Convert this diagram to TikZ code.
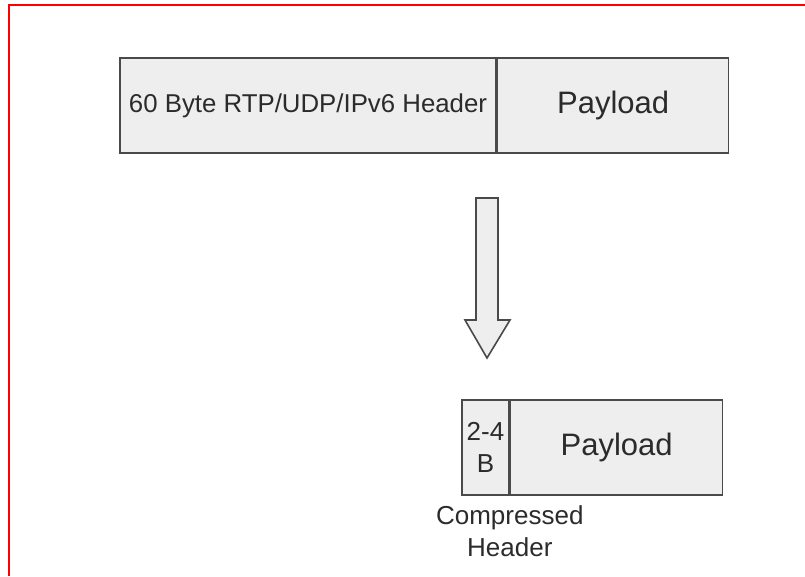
\documentclass[tikz,border=0pt]{standalone}
\usepackage{fontspec}
\setmainfont{Liberation Sans}
\usepackage{xcolor}
\usetikzlibrary{positioning}

\definecolor{boxfill}{HTML}{EEEEEE}
\definecolor{boxline}{HTML}{4A4A4A}
\definecolor{txt}{HTML}{2B2B2B}

\begin{document}
\begin{tikzpicture}[
    x=1pt, y=-1pt,
    field/.style={rectangle, draw=boxline, fill=boxfill, line width=1.6pt, minimum height=95pt, inner sep=0pt, align=center, text=txt},
    bigtext/.style={font=\fontsize{31}{36}\selectfont},
    hdrtext/.style={font=\fontsize{25.8}{30}\selectfont},
    smalltext/.style={font=\fontsize{26}{32}\selectfont}
]
\useasboundingbox (0,0) rectangle (805,576);

% Frame
\draw[red, line width=2.5pt] (9,576) -- (9,5) -- (805,5);

% Full packet
\node[field, hdrtext, minimum width=376pt] (fullhdr) at (308,105.5) {60 Byte RTP/UDP/IPv6 Header};
\node[field, bigtext, minimum width=231pt, right=0pt of fullhdr] (fullpay) {Payload};

% Compressed packet
\node[field, smalltext, minimum width=47pt] (comphdr) at (485.5,447.5) {2-4\\B};
\node[field, bigtext, minimum width=212pt, right=0pt of comphdr] (comppay) {Payload};
\node[smalltext, text=txt, align=center, below=6pt of comphdr.south east, anchor=north] (complbl) {Compressed\\Header};

% Conversion arrow
\draw[boxline, fill=boxfill, line width=1.6pt, line join=miter]
    (476,198) -- (498,198) -- (498,320) -- (510,320) -- (487,358) -- (465,320) -- (476,320) -- cycle;

\end{tikzpicture}
\end{document}
